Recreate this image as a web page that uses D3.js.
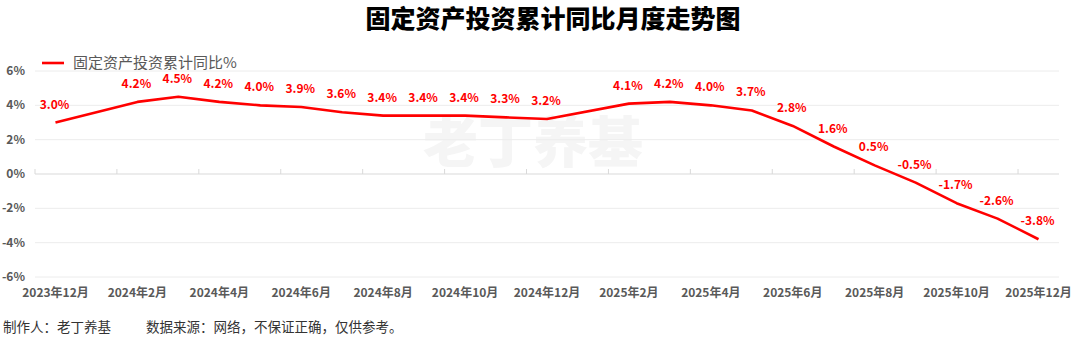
<!DOCTYPE html>
<html>
<head>
<meta charset="utf-8">
<script src="https://d3js.org/d3.v7.min.js"></script>
<style>
  body { margin: 0; background: #fff; }
  svg { display: block; font-family: "Noto Sans CJK SC", "Noto Sans", sans-serif; }
</style>
</head>
<body>
<div id="chart"></div>
<script>
// every month on the axis (Jan has no release, so no point there)
const axisMonths = ["2023-12","2024-01","2024-02","2024-03","2024-04","2024-05","2024-06",
  "2024-07","2024-08","2024-09","2024-10","2024-11","2024-12","2025-01","2025-02","2025-03",
  "2025-04","2025-05","2025-06","2025-07","2025-08","2025-09","2025-10","2025-11","2025-12"];
const months = ["2023-12","2024-02","2024-03","2024-04","2024-05","2024-06","2024-07",
  "2024-08","2024-09","2024-10","2024-11","2024-12","2025-02","2025-03","2025-04","2025-05",
  "2025-06","2025-07","2025-08","2025-09","2025-10","2025-11","2025-12"];
const values = [3.0, 4.2, 4.5, 4.2, 4.0, 3.9, 3.6, 3.4, 3.4, 3.4, 3.3, 3.2,
  4.1, 4.2, 4.0, 3.7, 2.8, 1.6, 0.5, -0.5, -1.7, -2.6, -3.8];
const yTicks = [-6, -4, -2, 0, 2, 4, 6];
const seriesName = "固定资产投资累计同比%";

const W = 1080, H = 342;
const svg = d3.select("#chart").append("svg").attr("width", W).attr("height", H);

const x = d3.scaleBand().domain(axisMonths).range([35, 1059]);
const y = d3.scaleLinear().domain([-6, 6]).range([277, 71]);
const cx = m => x(m) + x.bandwidth() / 2;
const data = months.map((m, i) => ({m: m, v: values[i]}));

// title
svg.append("text")
  .attr("x", 553).attr("y", 28)
  .attr("text-anchor", "middle")
  .attr("font-size", 25).attr("font-weight", 900).attr("fill", "#000")
  .text("固定资产投资累计同比月度走势图");

// watermark
svg.append("text")
  .attr("x", 533).attr("y", 162)
  .attr("text-anchor", "middle")
  .attr("font-size", 55).attr("font-weight", 900).attr("fill", "#f5f5f5")
  .text("老丁养基");

// grid
svg.append("g").selectAll("line")
  .data(yTicks)
  .join("line")
  .attr("x1", 35).attr("x2", 1059)
  .attr("y1", d => y(d)).attr("y2", d => y(d))
  .attr("stroke", d => d === 0 ? "#d9d9d9" : "#ececec")
  .attr("stroke-width", 1);

// y labels
svg.append("g").selectAll("text")
  .data(yTicks)
  .join("text")
  .attr("x", 25).attr("y", d => y(d) + 4)
  .attr("text-anchor", "end")
  .attr("font-size", 12).attr("font-weight", 700).attr("fill", "#595959")
  .text(d => d + "%");

// x ticks on the zero line, every 2 months
const tickMonths = axisMonths.filter((m, i) => i % 2 === 0);
svg.append("g").selectAll("line")
  .data(tickMonths)
  .join("line")
  .attr("x1", d => x(d)).attr("x2", d => x(d))
  .attr("y1", y(0) - 5).attr("y2", y(0))
  .attr("stroke", "#d9d9d9");

// x labels
svg.append("g").selectAll("text")
  .data(tickMonths)
  .join("text")
  .attr("x", d => cx(d)).attr("y", 297)
  .attr("text-anchor", "middle")
  .attr("font-size", 12).attr("font-weight", 700).attr("fill", "#595959")
  .text(d => {
    const [yy, mm] = d.split("-");
    return yy + "年" + (+mm) + "月";
  });

// line
svg.append("path")
  .datum(data)
  .attr("fill", "none")
  .attr("stroke", "#ff0000")
  .attr("stroke-width", 2.6)
  .attr("stroke-linejoin", "round")
  .attr("d", d3.line().x(d => cx(d.m)).y(d => y(d.v)));

// data labels
svg.append("g").selectAll("text")
  .data(data)
  .join("text")
  .attr("x", d => cx(d.m) - 1).attr("y", d => y(d.v) - 14)
  .attr("text-anchor", "middle")
  .attr("font-size", 12).attr("font-weight", 700).attr("fill", "#ff0000")
  .text(d => d.v.toFixed(1) + "%");

// legend
svg.append("line")
  .attr("x1", 42).attr("x2", 64).attr("y1", 63).attr("y2", 63)
  .attr("stroke", "#ff0000").attr("stroke-width", 2.6);
svg.append("text")
  .attr("x", 73).attr("y", 68)
  .attr("font-size", 15).attr("fill", "#595959")
  .text(seriesName);

// footer
svg.append("text")
  .attr("x", 3).attr("y", 332)
  .attr("font-size", 13.5).attr("fill", "#333")
  .text("制作人：老丁养基");
svg.append("text")
  .attr("x", 146).attr("y", 332)
  .attr("font-size", 13.5).attr("fill", "#333")
  .text("数据来源：网络，不保证正确，仅供参考。");
</script>
</body>
</html>
